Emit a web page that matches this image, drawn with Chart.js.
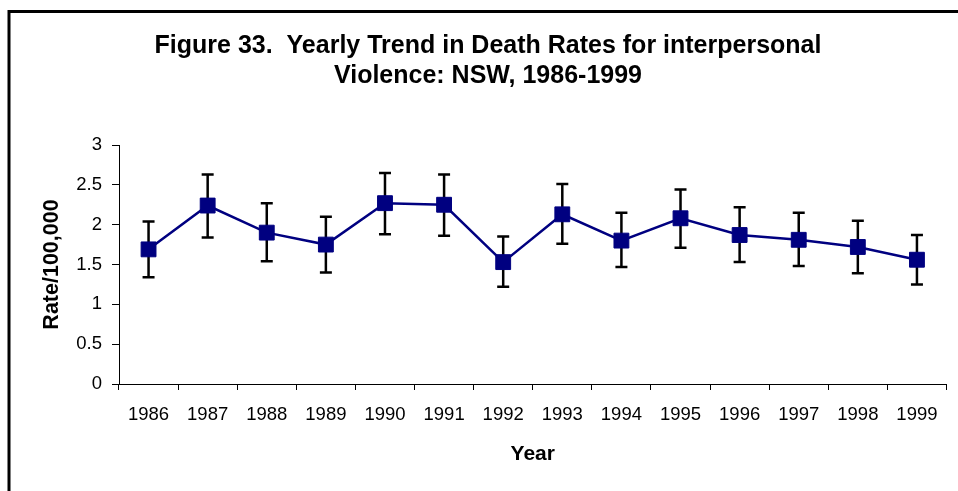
<!DOCTYPE html>
<html>
<head>
<meta charset="utf-8">
<script src="https://cdn.jsdelivr.net/npm/chart.js@4"></script>
<style>
  html, body { margin: 0; padding: 0; background: #fff; overflow: hidden; }
</style>
</head>
<body>
<canvas id="trendChart" width="958" height="491"></canvas>
<script>
// Yearly death rates for interpersonal violence, NSW
const years = ['1986', '1987', '1988', '1989', '1990', '1991', '1992',
               '1993', '1994', '1995', '1996', '1997', '1998', '1999'];
const rates = [1.69, 2.24, 1.90, 1.75, 2.27, 2.25, 1.53, 2.13, 1.80, 2.08, 1.87, 1.81, 1.72, 1.56];
const lowerCI = [1.34, 1.84, 1.54, 1.40, 1.88, 1.86, 1.22, 1.76, 1.47, 1.71, 1.53, 1.48, 1.39, 1.25];
const upperCI = [2.04, 2.63, 2.27, 2.10, 2.65, 2.63, 1.85, 2.51, 2.15, 2.44, 2.22, 2.15, 2.05, 1.87];
const yTickLabels = ['0', '0.5', '1', '1.5', '2', '2.5', '3'];

const FONT = "'Liberation Sans', Arial, sans-serif";

// Draw the confidence interval whiskers behind the line and markers
const errorBars = {
    id: 'errorBars',
    beforeDatasetsDraw(chart) {
        const ctx = chart.ctx;
        const x = chart.scales.x;
        const y = chart.scales.y;
        ctx.save();
        ctx.strokeStyle = '#000';
        ctx.lineWidth = 2.5;
        for (let i = 0; i < years.length; i++) {
            const px = x.getPixelForValue(i);
            const top = y.getPixelForValue(upperCI[i]);
            const bottom = y.getPixelForValue(lowerCI[i]);
            ctx.beginPath();
            ctx.moveTo(px, top);
            ctx.lineTo(px, bottom);
            ctx.moveTo(px - 6, top);
            ctx.lineTo(px + 6, top);
            ctx.moveTo(px - 6, bottom);
            ctx.lineTo(px + 6, bottom);
            ctx.stroke();
        }
        ctx.restore();
    }
};

// White background, the frame around the figure, and a small nudge of the title
const frame = {
    id: 'frame',
    afterLayout(chart) {
        // the original title is centred a bit right of the plot
        const t = chart.titleBlock;
        if (t) { t.left += 14; t.right += 14; }
    },
    beforeDraw(chart) {
        const ctx = chart.ctx;
        ctx.save();
        ctx.fillStyle = '#fff';
        ctx.fillRect(0, 0, chart.width, chart.height);
        ctx.restore();
    },
    afterDraw(chart) {
        const ctx = chart.ctx;
        ctx.save();
        ctx.strokeStyle = '#000';
        ctx.lineWidth = 3;
        ctx.strokeRect(9, 11.5, 2000, 2000);
        ctx.restore();
    }
};

new Chart(document.getElementById('trendChart'), {
    type: 'line',
    data: {
        labels: years,
        datasets: [{
            label: 'Rate/100,000',
            data: rates,
            borderColor: '#000080',
            borderWidth: 2.5,
            backgroundColor: '#000080',
            pointStyle: 'rect',
            pointRadius: 10.5,
            pointBorderWidth: 1,
            pointBorderColor: '#000080',
            pointBackgroundColor: '#000080',
            tension: 0,
            fill: false
        }]
    },
    options: {
        responsive: false,
        animation: false,
        layout: { padding: { left: 0, right: 10, top: 0, bottom: 0 } },
        plugins: {
            legend: { display: false },
            tooltip: { enabled: false },
            title: {
                display: true,
                text: ['Figure 33.  Yearly Trend in Death Rates for interpersonal',
                       'Violence: NSW, 1986-1999'],
                color: '#000',
                font: { family: FONT, size: 25, weight: 'bold', lineHeight: 1.2 },
                padding: { top: 31, bottom: 54 }
            }
        },
        scales: {
            x: {
                offset: true,
                afterFit(scale) { scale.height = 107; },
                grid: {
                    offset: true,
                    drawOnChartArea: false,
                    drawTicks: true,
                    tickLength: 6,
                    color: '#000'
                },
                border: { display: true, color: '#000', width: 1 },
                ticks: {
                    color: '#000',
                    autoSkip: false,
                    maxRotation: 0,
                    padding: 14,
                    font: { family: FONT, size: 18.5 }
                },
                title: {
                    display: true,
                    text: 'Year',
                    color: '#000',
                    font: { family: FONT, size: 21, weight: 'bold' },
                    padding: { top: 0, bottom: 24.5 }
                }
            },
            y: {
                min: 0,
                max: 3,
                afterFit(scale) { scale.width = 119; },
                grid: {
                    drawOnChartArea: false,
                    drawTicks: true,
                    tickLength: 7,
                    color: '#000'
                },
                border: { display: true, color: '#000', width: 1 },
                ticks: {
                    stepSize: 0.5,
                    color: '#000',
                    padding: 10,
                    font: { family: FONT, size: 18.5 },
                    callback: (value, index) => yTickLabels[index]
                },
                title: {
                    display: true,
                    text: 'Rate/100,000',
                    color: '#000',
                    font: { family: FONT, size: 21.5, weight: 'bold' },
                    padding: { top: 39, bottom: 0 }
                }
            }
        }
    },
    plugins: [frame, errorBars]
});
</script>
</body>
</html>
